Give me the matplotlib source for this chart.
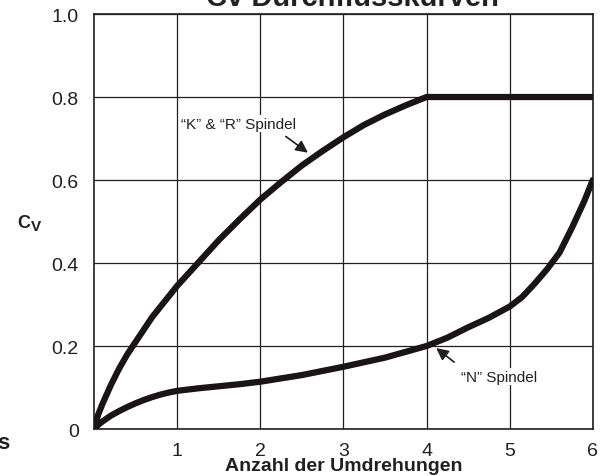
import numpy as np
import matplotlib.pyplot as plt

plt.rcParams['font.family'] = ['Liberation Sans', 'DejaVu Sans']

# values
kr_x = [0, 0.05, 0.1, 0.2, 0.3, 0.4, 0.5, 0.6, 0.7, 0.8, 0.9, 1.0, 1.25, 1.5, 1.75, 2.0,
        2.25, 2.5, 2.75, 3.0, 3.25, 3.5, 3.75, 4.0, 6.0]
kr_y = [0, 0.035, 0.06, 0.105, 0.145, 0.18, 0.21, 0.24, 0.27, 0.295, 0.32, 0.345, 0.40, 0.455, 0.505, 0.553,
        0.595, 0.635, 0.67, 0.703, 0.733, 0.758, 0.78, 0.80, 0.80]

n_x = [0, 0.05, 0.1, 0.2, 0.3, 0.4, 0.5, 0.6, 0.7, 0.8, 0.9, 1.0, 1.25, 1.5, 1.75, 2.0, 2.5, 3.0,
       3.5, 4.0, 4.25, 4.5, 4.75, 5.0, 5.15, 5.3, 5.45, 5.6, 5.75, 5.9, 6.0]
n_y = [0, 0.01, 0.018, 0.032, 0.043, 0.053, 0.062, 0.07, 0.077, 0.083, 0.088, 0.092, 0.098, 0.103, 0.108, 0.114, 0.13, 0.15,
       0.172, 0.20, 0.22, 0.245, 0.268, 0.295, 0.318, 0.35, 0.385, 0.425, 0.485, 0.55, 0.60]

x_ticks = [1, 2, 3, 4, 5, 6]
y_ticks = [0, 0.2, 0.4, 0.6, 0.8, 1.0]
y_labels = ['0', '0.2', '0.4', '0.6', '0.8', '1.0']

fig = plt.figure(figsize=(6.03, 4.77), dpi=100)
ax = fig.add_axes([0.156, 0.0985, 0.827, 0.870])

ax.plot(kr_x, kr_y, color='#1a1414', lw=4.5, solid_capstyle='round', solid_joinstyle='round', zorder=3)
ax.plot(n_x, n_y, color='#1a1414', lw=4.5, solid_capstyle='round', solid_joinstyle='round', zorder=3)

ax.set_xlim(0, 6)
ax.set_ylim(0, 1.0)
ax.set_xticks(x_ticks)
ax.set_yticks(y_ticks)
ax.set_yticklabels(y_labels)
ax.tick_params(length=0, labelsize=14, colors='#231f20')
ax.tick_params(axis='y', pad=11)
ax.tick_params(axis='x', pad=9)
ax.grid(True, color='#231f20', lw=0.9)
for s in ax.spines.values():
    s.set_linewidth(1.2)
    s.set_color('#231f20')

ax.set_xlabel('Anzahl der Umdrehungen', fontsize=14, fontweight='bold', labelpad=-1, color='#231f20')

# annotations
ax.text(1.74, 0.736, '\u201cK\u201d & \u201cR\u201d Spindel', fontsize=11, ha='center', va='center',
        color='#231f20', bbox=dict(facecolor='white', edgecolor='none', pad=1), zorder=4)
ax.annotate('', xy=(2.6, 0.662), xytext=(2.28, 0.709),
            arrowprops=dict(arrowstyle='-|>', color='#231f20', lw=1.2, mutation_scale=18), zorder=4)
ax.text(4.87, 0.126, '\u201cN\u201d Spindel', fontsize=11, ha='center', va='center',
        color='#231f20', bbox=dict(facecolor='white', edgecolor='none', pad=1), zorder=4)
ax.annotate('', xy=(4.09, 0.199), xytext=(4.36, 0.157),
            arrowprops=dict(arrowstyle='-|>', color='#231f20', lw=1.2, mutation_scale=18), zorder=4)

# title (cut off at the top) and side labels
fig.text(352 / 603, 1 - 6.5 / 477, 'Cv Durchflusskurven', fontsize=21, fontweight='bold',
         ha='center', va='baseline', color='#231f20')
fig.text(17 / 603, 1 - 228 / 477, 'C', fontsize=13, fontweight='bold', va='baseline', color='#231f20')
fig.text(31 / 603, 1 - 231 / 477, 'V', fontsize=11, fontweight='bold', va='baseline', color='#231f20')
fig.text(9 / 603, 1 - 449 / 477, 's', fontsize=16, fontweight='bold', ha='right', va='baseline', color='#231f20')

fig.savefig('out.png', dpi=100)
